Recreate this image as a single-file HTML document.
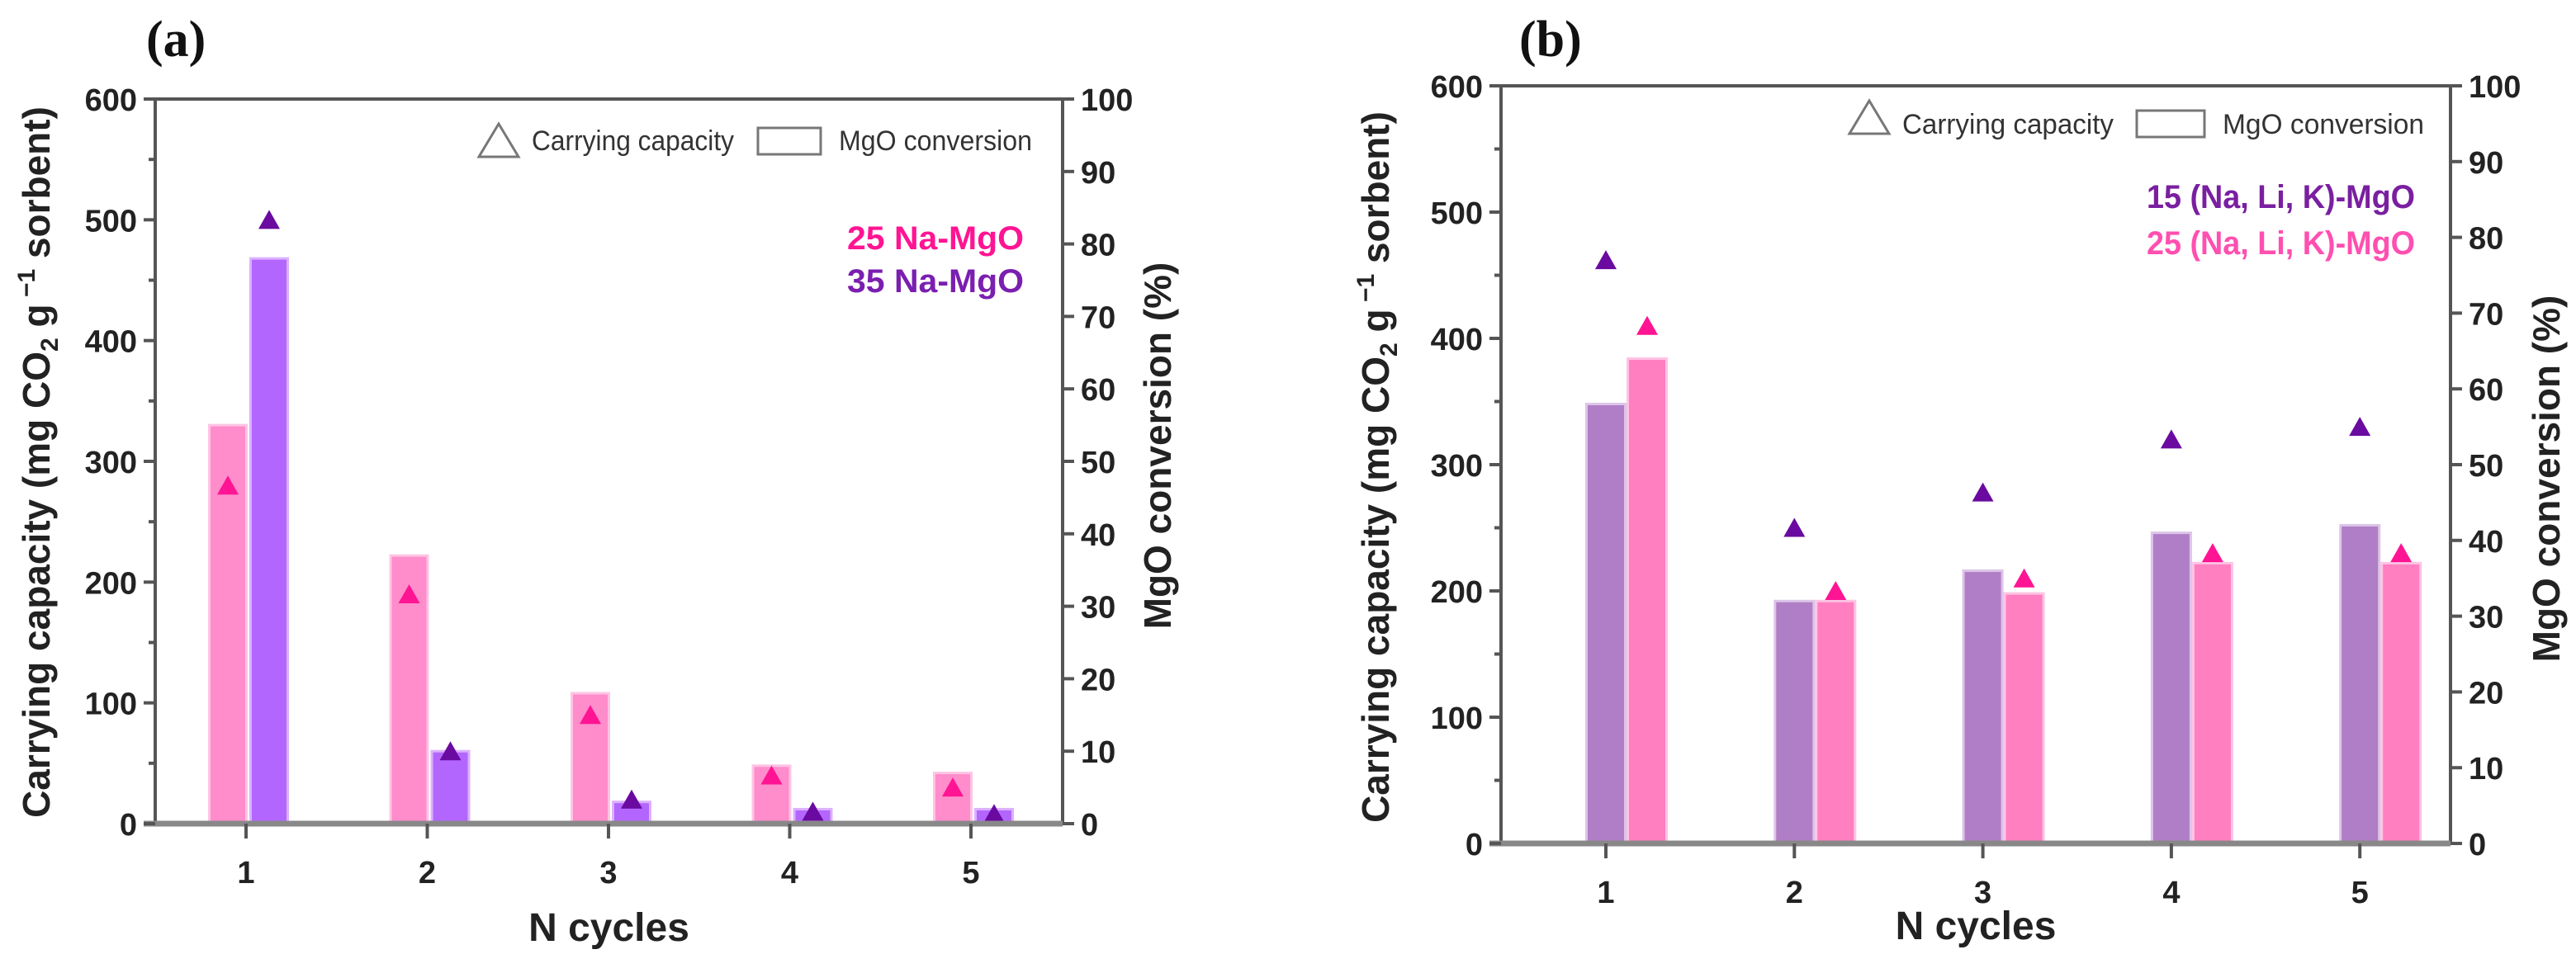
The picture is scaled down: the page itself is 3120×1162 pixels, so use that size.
<!DOCTYPE html>
<html><head><meta charset="utf-8"><style>
html,body{margin:0;padding:0;background:#fff;}
svg{display:block;}
text{font-family:"Liberation Sans",sans-serif;}
</style></head><body>
<svg id="chart" width="3120" height="1162" viewBox="0 0 3120 1162" xmlns="http://www.w3.org/2000/svg">
</svg>
<script>
const categories = [1, 2, 3, 4, 5];
const leftTicks = [0, 100, 200, 300, 400, 500, 600];
const rightTicks = [0, 10, 20, 30, 40, 50, 60, 70, 80, 90, 100];
// panel a
const aPinkConv = [55, 37, 18, 8, 7];
const aPurpleConv = [78, 10, 3, 2, 2];
const aPinkCap = [280, 190, 90, 40, 30];
const aPurpleCap = [500, 60, 20, 10, 8];
// panel b
const bPurpleConv = [58, 32, 36, 41, 42];
const bPinkConv = [64, 32, 33, 37, 37];
const bPurpleCap = [462, 250, 278, 320, 330];
const bPinkCap = [410, 200, 210, 230, 230];

const NS = "http://www.w3.org/2000/svg";
const svg = document.getElementById('chart');
function mk(tag, attrs, parent, txt){
  const e = document.createElementNS(NS, tag);
  for (const k in attrs) e.setAttribute(k, attrs[k]);
  if (txt !== undefined) e.textContent = txt;
  (parent || svg).appendChild(e);
  return e;
}

function panel(p){
  const g = mk('g', {});
  
  
  const yL = v => p.y0 - (v / 600) * (p.y0 - p.yTop);
  const yR = v => p.y0 - (v / 100) * (p.y0 - p.yTop);
  const xC = c => p.x1 + (c - 1) * p.step;

  p.bars.forEach(s => {
    s.vals.forEach((v, i) => {
      const cx = xC(categories[i]) + s.off;
      const r = mk('rect', {x: cx - p.bw/2, y: yR(v), width: p.bw, height: p.y0 - yR(v), fill: s.color, stroke: s.edge, 'stroke-width': 3}, g);
      
      
    });
  });
  p.tris.forEach(s => {
    s.vals.forEach((v, i) => {
      const cx = xC(categories[i]) + s.off, cy = yL(v);
      const t = mk('polygon', {points: `${cx-13},${cy+11} ${cx+13},${cy+11} ${cx},${cy-12}`, fill: s.color}, g);
      
      
    });
  });
  const ax = mk('g', {stroke: '#555', 'stroke-width': 4, fill: 'none'}, g);
  
  
  mk('line', {x1: p.xL, y1: p.yTop, x2: p.xR, y2: p.yTop}, ax);
  mk('line', {x1: p.xL, y1: p.yTop, x2: p.xL, y2: p.y0}, ax);
  mk('line', {x1: p.xR, y1: p.yTop, x2: p.xR, y2: p.y0}, ax);
  mk('line', {x1: p.xL - 14, y1: p.y0, x2: p.xR, y2: p.y0, stroke: '#888', 'stroke-width': 7}, ax);

  leftTicks.forEach(v => {
    mk('line', {x1: p.xL - 14, y1: yL(v), x2: p.xL, y2: yL(v)}, ax);
    if (v < 600) mk('line', {x1: p.xL - 8, y1: yL(v + 50), x2: p.xL, y2: yL(v + 50)}, ax);
    const t = mk('text', {x: p.xL - 22, y: yL(v) + 14, 'text-anchor': 'end', 'font-size': 38, 'font-weight': 'bold', fill: '#222'}, g, v);
    
    
  });
  rightTicks.forEach(v => {
    mk('line', {x1: p.xR, y1: yR(v), x2: p.xR + 14, y2: yR(v)}, ax);
    const t = mk('text', {x: p.xR + 22, y: yR(v) + 14, 'text-anchor': 'start', 'font-size': 38, 'font-weight': 'bold', fill: '#222'}, g, v);
    
    
  });
  categories.forEach(c => {
    mk('line', {x1: xC(c), y1: p.y0, x2: xC(c), y2: p.y0 + 18}, ax);
    const t = mk('text', {x: xC(c), y: p.y0 + 72, 'text-anchor': 'middle', 'font-size': 38, 'font-weight': 'bold', fill: '#222'}, g, c);
    
    
  });

  let t = mk('text', {x: p.panelX, y: 68, style: 'font-family:"Liberation Serif",serif;font-weight:bold', 'font-size': 62, fill: '#111'}, g, p.panelLabel);
  
  
  t = mk('text', {x: (p.xL + p.xR)/2, y: p.xTitleY, 'text-anchor': 'middle', 'font-size': 48, 'font-weight': 'bold', fill: '#222'}, g, 'N cycles');
  
  
  t = mk('text', {x: 0, y: 0, 'text-anchor': 'middle', 'font-size': 46, 'font-weight': 'bold', fill: '#222', transform: `translate(${p.ylx},${p.yly}) rotate(-90)`}, g);
  
  
  t.innerHTML = 'Carrying capacity (mg CO<tspan font-size="30" dy="10">2</tspan><tspan dy="-10"> g</tspan><tspan font-size="30" dy="-18"> −1</tspan><tspan dy="18"> sorbent)</tspan>';
  t = mk('text', {x: 0, y: 0, 'text-anchor': 'middle', 'font-size': 46, 'font-weight': 'bold', fill: '#222', transform: `translate(${p.yrx},${p.yry}) rotate(-90)`}, g, 'MgO conversion (%)');
  
  

  const lg = mk('g', {}, g);
  
  
  const L = p.leg;
  mk('polygon', {points: `${L.tx},${L.ty+40} ${L.tx+48},${L.ty+40} ${L.tx+24},${L.ty}`, fill: 'none', stroke: '#777', 'stroke-width': 3}, lg);
  t = mk('text', {x: L.tx + 64, y: L.base, 'font-size': 34, fill: '#333', textLength: L.t1w, lengthAdjust: 'spacingAndGlyphs'}, lg, 'Carrying capacity');
  
  
  mk('rect', {x: L.rx, y: L.ry, width: L.rw, height: 32, fill: '#fff', stroke: '#777', 'stroke-width': 3}, lg);
  t = mk('text', {x: L.rx + L.rw + 22, y: L.base, 'font-size': 34, fill: '#333', textLength: L.t2w, lengthAdjust: 'spacingAndGlyphs'}, lg, 'MgO conversion');
  
  
  p.labels.forEach(l => {
    const e = mk('text', {x: l.x, y: l.y, 'text-anchor': 'end', 'font-size': 40, 'font-weight': 'bold', fill: l.color, textLength: l.w, lengthAdjust: 'spacingAndGlyphs'}, g, l.text);
    
    
  });
}

panel({
  name: 'panel-a', panelLabel: '(a)', panelX: 177,
  xL: 188, xR: 1287, yTop: 120, y0: 998, x1: 298, step: 219.5, bw: 45,
  bars: [
    {key: '25-na-mgo', vals: aPinkConv, off: -22, color: '#ff8ccb', edge: '#ffc4e4'},
    {key: '35-na-mgo', vals: aPurpleConv, off: 28, color: '#b366fe', edge: '#dcb0ff'}
  ],
  tris: [
    {key: '25-na-mgo', vals: aPinkCap, off: -22, color: '#ff1493'},
    {key: '35-na-mgo', vals: aPurpleCap, off: 28, color: '#6a0aa0'}
  ],
  xTitleY: 1140, ylx: 60, yly: 560, yrx: 1418, yry: 540,
  leg: {tx: 580, ty: 150, base: 182, t1w: 245, rx: 918, ry: 155, rw: 76, t2w: 234},
  labels: [
    {text: '25 Na-MgO', x: 1240, y: 302, color: '#ff1493', w: 214},
    {text: '35 Na-MgO', x: 1240, y: 354, color: '#7a1fb0', w: 214}
  ]
});
panel({
  name: 'panel-b', panelLabel: '(b)', panelX: 1840,
  xL: 1818, xR: 2968, yTop: 104, y0: 1022, x1: 1945, step: 228.3, bw: 47,
  bars: [
    {key: '15-nalik-mgo', vals: bPurpleConv, off: 0, color: '#b07ec6', edge: '#dcc4e8'},
    {key: '25-nalik-mgo', vals: bPinkConv, off: 50, color: '#ff7fc1', edge: '#ffc4e4'}
  ],
  tris: [
    {key: '15-nalik-mgo', vals: bPurpleCap, off: 0, color: '#6a0aa0'},
    {key: '25-nalik-mgo', vals: bPinkCap, off: 50, color: '#ff1493'}
  ],
  xTitleY: 1138, ylx: 1682, yly: 566, yrx: 3100, yry: 580,
  leg: {tx: 2240, ty: 122, base: 162, t1w: 256, rx: 2588, ry: 134, rw: 82, t2w: 244},
  labels: [
    {text: '15 (Na, Li, K)-MgO', x: 2925, y: 252, color: '#7a1fa0', w: 325},
    {text: '25 (Na, Li, K)-MgO', x: 2925, y: 308, color: '#ff4fb0', w: 325}
  ]
});
</script>
</body></html>
